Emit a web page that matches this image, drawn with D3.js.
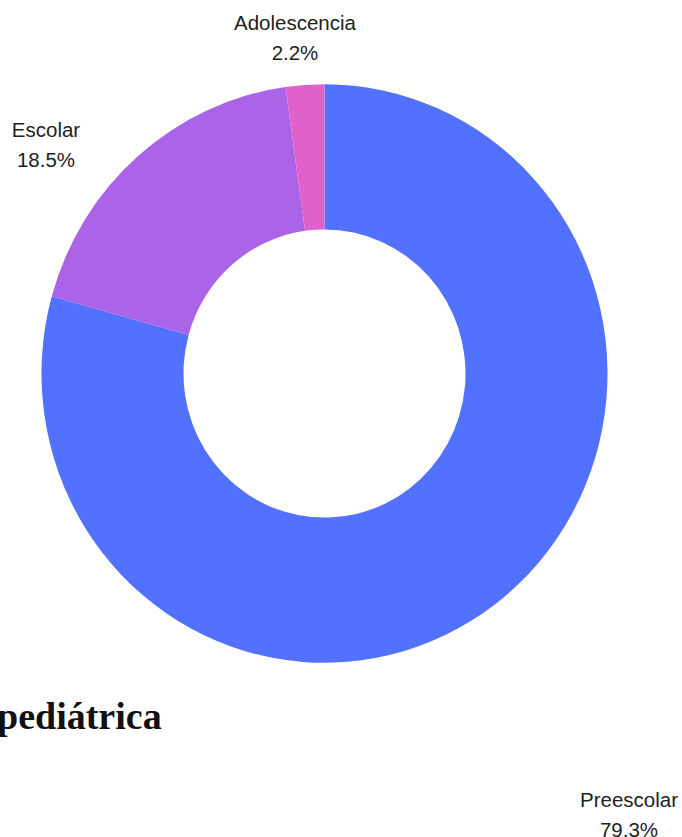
<!DOCTYPE html>
<html><head><meta charset="utf-8">
<script src="https://cdn.jsdelivr.net/npm/d3@7"></script>
<style>html,body{margin:0;padding:0;background:#fff;overflow:hidden}</style>
</head><body>
<svg id="c" width="682" height="837"></svg>
<script>
const categories = ["Preescolar", "Escolar", "Adolescencia"];
const values = [79.3, 18.5, 2.2];
const colors = ["#5271ff", "#ab63e7", "#e061c9"];
const labelTexts = ["79.3%", "18.5%", "2.2%"];
const titleText = "pediátrica";

const svg = d3.select("#c");
const cx = 324.5, cy = 373.5, rOuter = 283, rInner = 141, yStretch = 1.022;

const pie = d3.pie().sort(null).value(d => d.v);
const arcs = pie(categories.map((c, i) => ({c, v: values[i], col: colors[i], lab: labelTexts[i]})));
const arc = d3.arc().innerRadius(rInner).outerRadius(rOuter);

const g = svg.append("g").attr("transform", `translate(${cx},${cy}) scale(1,${yStretch})`);
g.selectAll("path").data(arcs).join("path")
  .attr("d", arc).attr("fill", d => d.data.col);

// label anchor positions (layout)
const labelPos = [[629, 800], [46, 130], [295, 23]];
const lg = svg.append("g");
arcs.forEach((d, i) => {
  const t = lg.append("text")
    .attr("x", labelPos[i][0]).attr("y", labelPos[i][1])
    .attr("text-anchor", "middle")
    .attr("font-family", "Liberation Sans, Arial, sans-serif")
    .attr("font-size", 20.5).attr("fill", "#222");
  t.append("tspan").attr("x", labelPos[i][0]).attr("dy", "0.35em").text(d.data.c);
  t.append("tspan").attr("x", labelPos[i][0]).attr("dy", 30).text(d.data.lab);
});

svg.append("text").attr("x", -3).attr("y", 729)
  .attr("font-family", "Liberation Serif, serif").attr("font-weight", 900)
  .attr("font-size", 38).attr("fill", "#111").text(titleText);
</script>
</body></html>
